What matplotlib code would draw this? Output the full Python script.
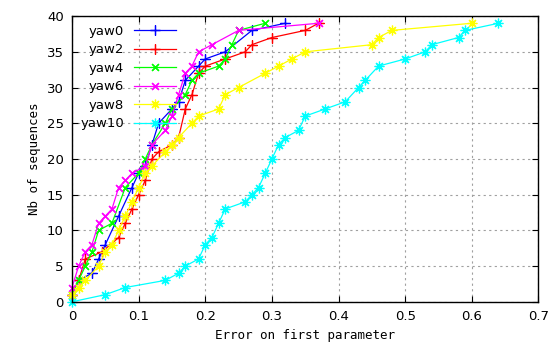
import matplotlib
matplotlib.use("Agg")
from matplotlib import pyplot as plt
from matplotlib.ticker import FuncFormatter

# error on first parameter (x) / cumulated nb of sequences (y)
yaw0_x = [0, 0.01, 0.03, 0.04, 0.05, 0.07, 0.09, 0.10, 0.11, 0.12, 0.13, 0.15, 0.16, 0.17, 0.19, 0.20, 0.23, 0.27, 0.32]
yaw0_y = [1, 3, 4, 6, 8, 12, 16, 18, 19, 22, 25, 27, 28, 31, 33, 34, 35, 38, 39]

yaw2_x = [0, 0.01, 0.02, 0.045, 0.07, 0.08, 0.09, 0.10, 0.11, 0.12, 0.13, 0.15, 0.16, 0.17, 0.18, 0.19, 0.20, 0.23, 0.26, 0.27, 0.30, 0.35, 0.37]
yaw2_y = [1, 3, 6, 7, 9, 11, 13, 15, 17, 20, 21, 22, 23, 27, 29, 32, 33, 34, 35, 36, 37, 38, 39]

yaw4_x = [0, 0.01, 0.02, 0.03, 0.04, 0.06, 0.08, 0.10, 0.11, 0.12, 0.14, 0.15, 0.17, 0.18, 0.19, 0.22, 0.23, 0.24, 0.25, 0.29]
yaw4_y = [1, 3, 5, 7, 10, 11, 16, 18, 20, 22, 25, 27, 29, 31, 32, 33, 34, 36, 38, 39]

yaw6_x = [0, 0.01, 0.02, 0.03, 0.04, 0.05, 0.06, 0.07, 0.08, 0.09, 0.11, 0.12, 0.14, 0.15, 0.16, 0.17, 0.18, 0.19, 0.21, 0.25, 0.37]
yaw6_y = [2, 5, 7, 8, 11, 12, 13, 16, 17, 18, 19, 22, 24, 26, 29, 32, 33, 35, 36, 38, 39]

yaw8_x = [0, 0.01, 0.02, 0.04, 0.05, 0.06, 0.07, 0.08, 0.09, 0.10, 0.11, 0.12, 0.14, 0.15, 0.16, 0.18, 0.19, 0.22, 0.23, 0.25, 0.29, 0.31, 0.33, 0.35, 0.45, 0.46, 0.48, 0.60]
yaw8_y = [1, 2, 3, 5, 7, 8, 10, 12, 14, 16, 18, 19, 21, 22, 23, 25, 26, 27, 29, 30, 32, 33, 34, 35, 36, 37, 38, 39]

yaw10_x = [0, 0.05, 0.08, 0.14, 0.16, 0.17, 0.19, 0.20, 0.21, 0.22, 0.23, 0.26, 0.27, 0.28, 0.29, 0.30, 0.31, 0.32, 0.34, 0.35, 0.38, 0.41, 0.43, 0.44, 0.46, 0.50, 0.53, 0.54, 0.58, 0.59, 0.64]
yaw10_y = [0, 1, 2, 3, 4, 5, 6, 8, 9, 11, 13, 14, 15, 16, 18, 20, 22, 23, 24, 26, 27, 28, 30, 31, 33, 34, 35, 36, 37, 38, 39]

x_ticks = [0, 0.1, 0.2, 0.3, 0.4, 0.5, 0.6, 0.7]
y_ticks = [0, 5, 10, 15, 20, 25, 30, 35, 40]

plus = (4, 2, 0)
cross = (4, 2, 45)
star = (8, 2, 0)

series = [
    ('yaw0', yaw0_x, yaw0_y, '#0000ff', plus),
    ('yaw2', yaw2_x, yaw2_y, '#ff0000', plus),
    ('yaw4', yaw4_x, yaw4_y, '#00ff00', cross),
    ('yaw6', yaw6_x, yaw6_y, '#ff00ff', cross),
    ('yaw8', yaw8_x, yaw8_y, '#ffff00', star),
    ('yaw10', yaw10_x, yaw10_y, '#00ffff', star),
]

fig = plt.figure(figsize=(5.58, 3.58), dpi=100)
ax = fig.add_axes([0.129, 0.157, 0.836, 0.798])

for name, xs, ys, col, mk in series:
    ax.plot(xs, ys, color=col, lw=0.9, marker=mk, markersize=7, mew=0.9, label=name, clip_on=False)

ax.set_xlim(0, 0.7)
ax.set_ylim(0, 40)
ax.set_xticks(x_ticks)
ax.set_yticks(y_ticks)
ax.xaxis.set_major_formatter(FuncFormatter(lambda v, p: '0' if v == 0 else '%g' % v))
ax.tick_params(direction='in', top=True, right=True, length=4, labelsize=9.5, pad=6)
ax.grid(True, color='#a0a0a0', linestyle=(0, (2, 3)), lw=0.8)
for s in ax.spines.values():
    s.set_linewidth(1)

ax.set_xlabel('Error on first parameter', fontsize=9, family='DejaVu Sans Mono')
ax.set_ylabel('Nb of sequences', fontsize=9, family='DejaVu Sans Mono')

ax.legend(loc='upper left', markerfirst=False, frameon=False, fontsize=9.5,
          handlelength=3.2, borderaxespad=0.25, labelspacing=0.42, handletextpad=0.7)

plt.savefig('out.png', dpi=100)
